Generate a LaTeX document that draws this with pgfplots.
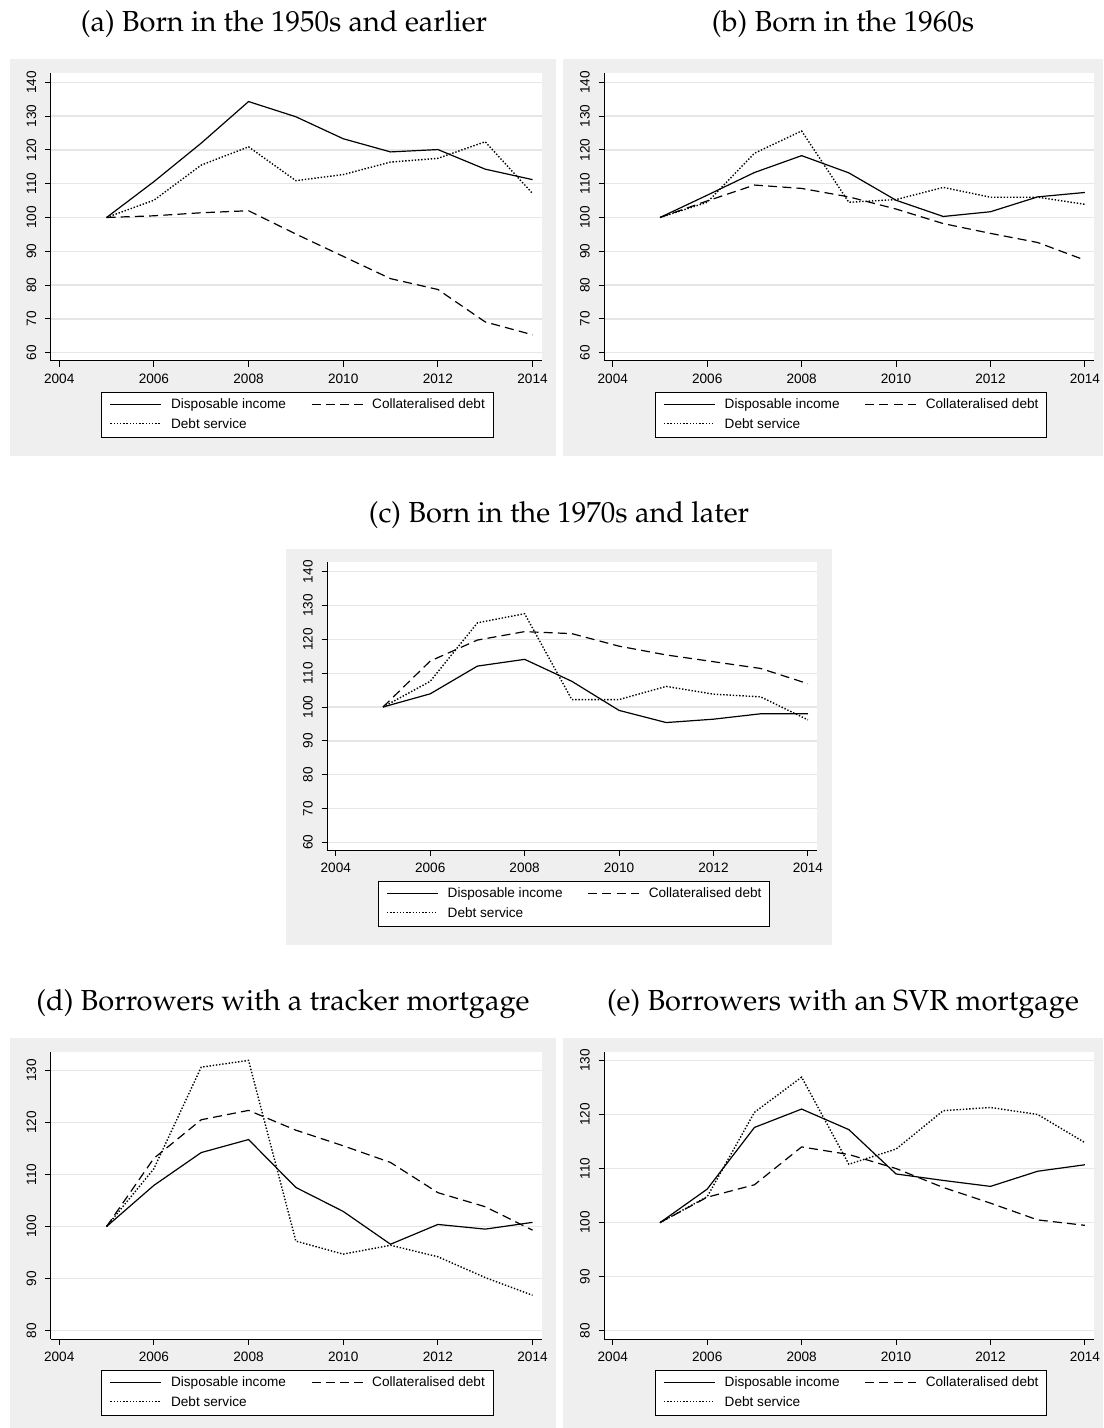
\documentclass[border=0pt]{standalone}
\usepackage{pgfplots}
\pgfplotsset{compat=1.18}
\usepackage{fontspec}
\setmainfont{Liberation Sans}
\newcommand\pal{\fontencoding{OT1}\fontfamily{ppl}\selectfont\fontsize{14.5}{17}\selectfont}
\definecolor{panel}{RGB}{239,239,239}
\definecolor{gridc}{RGB}{230,230,230}

\pgfplotsset{
  stata/.style={
    scale only axis,
    anchor=south west,
    axis lines*=left,
    axis line style={black, line width=0.5pt},
    axis background/.style={fill=white},
    xmin=2003.82, xmax=2014.2,
    xtick={2004,2006,...,2014},
    ymajorgrids,
    grid style={gridc, line width=0.7pt},
    tick align=outside,
    major tick length=2.75pt,
    tick style={black, line width=0.5pt},
    ticklabel style={font=\fontsize{6.8}{8}\selectfont},
    /pgf/number format/assume math mode=true,
    /pgf/number format/1000 sep={},
    yticklabel style={xshift=-1pt, rotate=90, anchor=south},
    legend columns=2,
    legend cell align=left,
    legend image code/.code={\draw[##1] (0pt,0.6pt) -- (25.5pt,0.6pt);},
    legend style={at={(0,0)}, anchor=north west, xshift=25.15pt, yshift=-15.5pt,
      draw=black, line width=0.5pt, fill=white,
      font=\fontsize{6.8}{8}\selectfont,
      inner xsep=4.1pt, inner ysep=3.2pt, row sep=3.15pt,
      nodes={inner sep=0pt, text height=5pt, text depth=1.5pt},
      /tikz/every odd column/.style={column sep=4.5pt},
      /tikz/every even column/.style={column sep=12.5pt}},
  },
  di/.style={black, line width=0.6pt, solid},
  cd/.style={black, line width=0.6pt, dash pattern=on 4.5pt off 2.6pt},
  ds/.style={black, line width=0.7pt, dash pattern=on 0.7pt off 0.9pt},
}

\begin{document}
\begin{tikzpicture}
\useasboundingbox (0pt,0pt) rectangle (551.5pt,-714pt);
\begin{scope}[x=0.5pt, y=-0.5pt]
  \fill[panel] (10,59) rectangle (556,456);
  \fill[panel] (562.7,59) rectangle (1103,456);
  \fill[panel] (286,549.3) rectangle (831.7,945);
  \fill[panel] (10,1037.7) rectangle (556,1428);
  \fill[panel] (562.7,1037.7) rectangle (1103,1428);
  \node[anchor=base] at (284,32) {\pal (a) Born in the 1950s and earlier};
  \node[anchor=base] at (843,32) {\pal (b) Born in the 1960s};
  \node[anchor=base] at (559,522.3) {\pal (c) Born in the 1970s and later};
  \node[anchor=base] at (283,1010.7) {\pal (d) Borrowers with a tracker mortgage};
  \node[anchor=base] at (843,1010.7) {\pal (e) Borrowers with an SVR mortgage};
\end{scope}

% (a)
\begin{axis}[stata, at={(25.35pt,-180.5pt)}, width=245.65pt, height=144.15pt,
  ymin=57.54, ymax=142.84, ytick={60,70,...,140}]
\addplot[di] coordinates {(2005,100) (2006,110.6) (2007,122.0) (2008,134.3) (2009,129.8) (2010,123.3) (2011,119.4) (2012,120.1) (2013,114.3) (2014,111.2)};
\addplot[cd] coordinates {(2005,100) (2006,100.5) (2007,101.4) (2008,102.0) (2009,95.1) (2010,88.5) (2011,81.9) (2012,78.7) (2013,69.1) (2014,65.3)};
\addplot[ds] coordinates {(2005,100) (2006,105.1) (2007,115.5) (2008,120.9) (2009,110.9) (2010,112.7) (2011,116.4) (2012,117.5) (2013,122.4) (2014,107.1)};
\legend{Disposable income, Collateralised debt, Debt service}
\end{axis}

% (b)
\begin{axis}[stata, at={(302.15pt,-180.5pt)}, width=245pt, height=144.15pt,
  ymin=57.54, ymax=142.84, ytick={60,70,...,140}]
\addplot[di] coordinates {(2005,100) (2006,106.6) (2007,113.3) (2008,118.3) (2009,113.2) (2010,105.1) (2011,100.3) (2012,101.7) (2013,106.1) (2014,107.4)};
\addplot[cd] coordinates {(2005,100) (2006,104.9) (2007,109.6) (2008,108.6) (2009,106.1) (2010,102.5) (2011,98.2) (2012,95.3) (2013,92.6) (2014,87.4)};
\addplot[ds] coordinates {(2005,100) (2006,104.5) (2007,119.0) (2008,125.6) (2009,104.5) (2010,105.3) (2011,108.9) (2012,106.0) (2013,106.0) (2014,103.9)};
\legend{Disposable income, Collateralised debt, Debt service}
\end{axis}

% (c)
\begin{axis}[stata, at={(163.65pt,-425.35pt)}, width=245pt, height=144.2pt,
  ymin=57.5, ymax=142.8, ytick={60,70,...,140}, legend style={yshift=0.35pt}]
\addplot[di] coordinates {(2005,100) (2006,103.9) (2007,112.1) (2008,114.1) (2009,107.6) (2010,99.0) (2011,95.4) (2012,96.4) (2013,98.0) (2014,98.0)};
\addplot[cd] coordinates {(2005,100) (2006,113.6) (2007,119.8) (2008,122.3) (2009,121.7) (2010,118.0) (2011,115.4) (2012,113.4) (2013,111.4) (2014,106.9)};
\addplot[ds] coordinates {(2005,100) (2006,107.6) (2007,124.9) (2008,127.6) (2009,102.2) (2010,102.2) (2011,106.1) (2012,103.8) (2013,103.0) (2014,96.2)};
\legend{Disposable income, Collateralised debt, Debt service}
\end{axis}

% (d)
\begin{axis}[stata, at={(25.35pt,-669.5pt)}, width=245.65pt, height=143.35pt,
  ymin=78.4, ymax=133.45, ytick={80,90,...,130}]
\addplot[di] coordinates {(2005,100) (2006,107.9) (2007,114.2) (2008,116.7) (2009,107.5) (2010,102.9) (2011,96.6) (2012,100.4) (2013,99.5) (2014,100.8)};
\addplot[cd] coordinates {(2005,100) (2006,113.1) (2007,120.5) (2008,122.3) (2009,118.5) (2010,115.5) (2011,112.3) (2012,106.5) (2013,103.8) (2014,99.3)};
\addplot[ds] coordinates {(2005,100) (2006,111.1) (2007,130.6) (2008,131.9) (2009,97.2) (2010,94.7) (2011,96.4) (2012,94.2) (2013,90.2) (2014,86.8)};
\legend{Disposable income, Collateralised debt, Debt service}
\end{axis}

% (e)
\begin{axis}[stata, at={(302.15pt,-669.5pt)}, width=245pt, height=143.35pt,
  ymin=78.47, ymax=131.5, ytick={80,90,...,130}]
\addplot[di] coordinates {(2005,100) (2006,106.2) (2007,117.6) (2008,121.0) (2009,117.2) (2010,109.0) (2011,107.8) (2012,106.7) (2013,109.5) (2014,110.7)};
\addplot[cd] coordinates {(2005,100) (2006,104.7) (2007,107.0) (2008,114.0) (2009,112.6) (2010,110.0) (2011,106.5) (2012,103.6) (2013,100.5) (2014,99.5)};
\addplot[ds] coordinates {(2005,100) (2006,104.8) (2007,120.4) (2008,126.9) (2009,110.8) (2010,113.6) (2011,120.7) (2012,121.3) (2013,120.0) (2014,114.8)};
\legend{Disposable income, Collateralised debt, Debt service}
\end{axis}
\end{tikzpicture}
\end{document}
